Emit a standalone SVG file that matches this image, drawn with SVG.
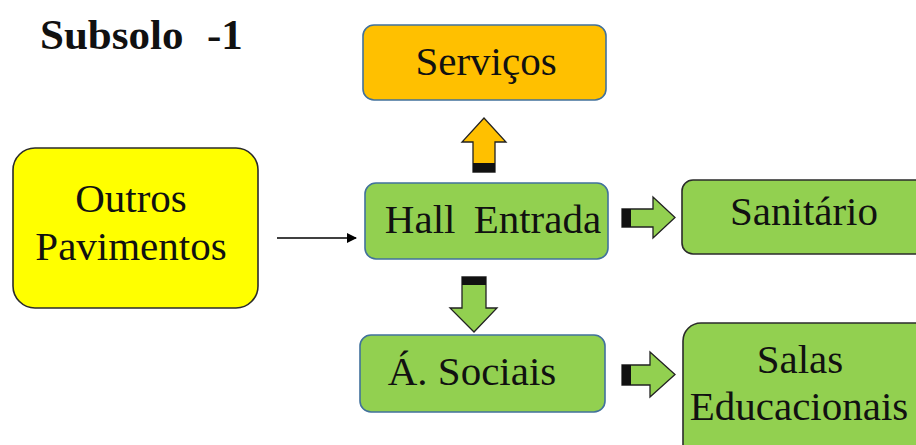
<svg xmlns="http://www.w3.org/2000/svg" width="916" height="445" viewBox="0 0 916 445">
<style>
.g{fill:#92D050}
.sb{stroke:#41719C;stroke-width:1.6}
.sk{stroke:#2b2b2b;stroke-width:1.6}
.ba{stroke:#222;stroke-width:1.3;stroke-linejoin:miter}
text{font-family:"Times New Roman","Liberation Serif",Tinos,"DejaVu Serif",serif}
</style>
<defs>
<marker id="ah" markerWidth="10" markerHeight="10" refX="9" refY="5" orient="auto" markerUnits="userSpaceOnUse">
<path d="M0,0 L10,5 L0,10 z" fill="#000"/>
</marker>
</defs>
<rect width="916" height="445" fill="#fff"/>
<text x="40" y="49" font-size="43" font-weight="bold" fill="#111">Subsolo<tspan x="207">-1</tspan></text>

<g font-size="41" fill="#111" text-anchor="middle">
<g id="servicos">
<rect x="363" y="25" width="243" height="75" rx="11" fill="#FFC000" class="sb"/>
<text x="486" y="75">Serviços</text>
</g>
<g id="hall">
<rect x="365" y="183" width="243" height="76" rx="11" class="g sb"/>
<text x="493" y="233" word-spacing="8">Hall Entrada</text>
</g>
<g id="sociais">
<rect x="360" y="335" width="245" height="77" rx="11" class="g sb"/>
<text x="472" y="385">Á. Sociais</text>
</g>
<g id="sanitario">
<rect x="682" y="180" width="250" height="74" rx="11" class="g sk"/>
<text x="804" y="225">Sanitário</text>
</g>
<g id="salas">
<rect x="683" y="323" width="250" height="140" rx="18" class="g sk"/>
<text x="800" y="373">Salas</text>
<text x="799" y="420">Educacionais</text>
</g>
<g id="outros">
<rect x="13" y="148" width="245" height="160" rx="22" fill="#FFFF00" class="sk"/>
<text x="131" y="212">Outros</text>
<text x="131" y="260">Pavimentos</text>
</g>
</g>

<g id="connectors">
<line x1="277" y1="238" x2="356" y2="238" stroke="#000" stroke-width="1.6" marker-end="url(#ah)"/>
<polygon points="473,172 473,142 462,142 484,118 506,142 495,142 495,172" fill="#FFC000" class="ba"/>
<rect x="473" y="163" width="22" height="9" fill="#111"/>
<polygon points="622,209 653,209 653,197 675,217.5 653,238 653,227 622,227" class="g ba"/>
<rect x="622" y="209" width="9" height="18" fill="#111"/>
<polygon points="462,277 486,277 486,308 497,308 474,332 450,308 462,308" class="g ba"/>
<rect x="462" y="277" width="24" height="8" fill="#111"/>
<polygon points="622,365 650,365 650,352 675,374.5 650,397 650,385 622,385" class="g ba"/>
<rect x="622" y="365" width="9" height="20" fill="#111"/>
</g>
</svg>
